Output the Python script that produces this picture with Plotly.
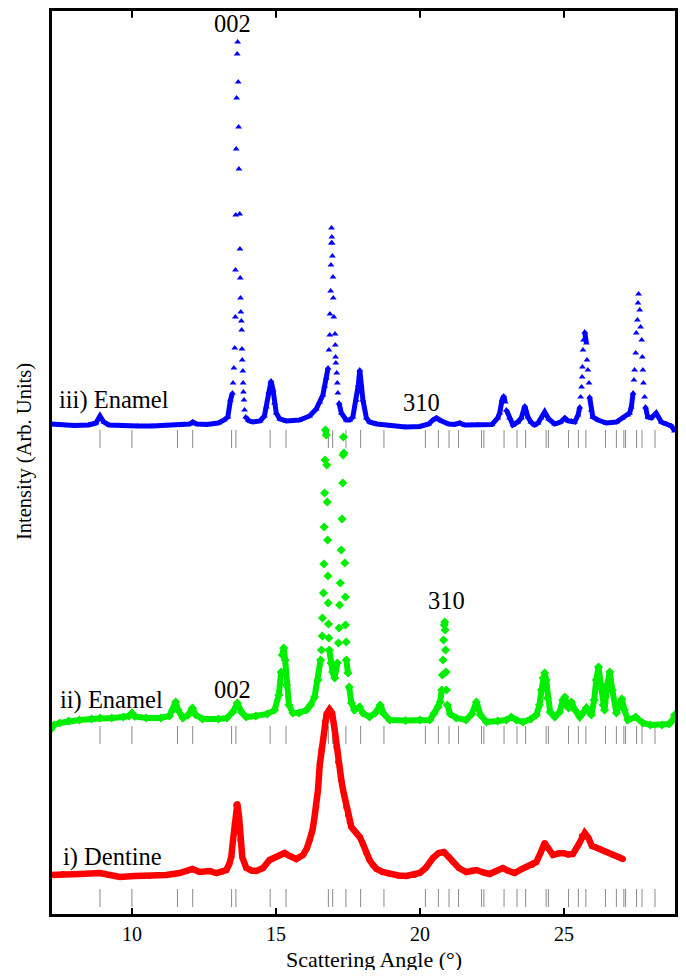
import plotly.graph_objects as go

# ---------------- data ----------------
# iii) Enamel (blue triangles)
blue_x = [7.19, 7.5, 8.0, 8.5, 8.75, 8.89, 9.02, 9.2, 9.7, 10.2, 10.7, 11.2, 11.7, 12.0, 12.11, 12.25,
          12.6, 13.0, 13.2, 13.33, 13.42, 13.49, 13.51, 13.54, 13.57, 13.59, 13.595, 13.605, 13.62,
          13.635, 13.655, 13.67, 13.69, 13.705, 13.715, 13.74, 13.75, 13.76, 13.77, 13.78, 13.80,
          13.81, 13.82, 13.83, 13.85, 13.86, 13.87, 13.89, 13.91, 13.95, 14.05, 14.2, 14.45, 14.6,
          14.67, 14.75, 14.83, 14.9, 14.95, 15.01, 15.13, 15.36, 15.82, 16.17, 16.4, 16.52, 16.63,
          16.69, 16.75, 16.81, 16.84, 16.87, 16.875, 16.90, 16.91, 16.925, 16.93, 16.94, 16.95,
          16.96, 16.98, 16.99, 17.01, 17.05, 17.06, 17.07, 17.08, 17.11, 17.13, 17.15, 17.19, 17.27,
          17.44, 17.56, 17.67, 17.79, 17.86, 17.91, 17.96, 18.02, 18.14, 18.25, 18.5, 19.0, 19.5,
          20.0, 20.3, 20.45, 20.57, 20.75, 21.0, 21.2, 21.38, 21.55, 22.0, 22.5, 22.7, 22.77, 22.85,
          22.91, 22.96, 23.0, 23.11, 23.23, 23.4, 23.52, 23.64, 23.75, 23.85, 23.98, 24.1, 24.21,
          24.33, 24.47, 24.68, 24.88, 25.03, 25.15, 25.26, 25.37, 25.49, 25.55, 25.58, 25.61, 25.63,
          25.64, 25.66, 25.68, 25.72, 25.78, 25.80, 25.83, 25.87, 25.89, 25.95, 26.0, 26.18, 26.47,
          26.82, 27.03, 27.22, 27.28, 27.34, 27.40, 27.43, 27.45, 27.49, 27.51, 27.55, 27.57, 27.59,
          27.63, 27.66, 27.70, 27.72, 27.74, 27.76, 27.80, 27.83, 27.91, 28.03, 28.20, 28.38, 28.55,
          28.73, 28.84]
blue_y = [6, 5, 4.5, 5, 7, 14, 8, 5, 4, 4, 4, 4.5, 5, 6, 8, 6,
          5.5, 7, 10, 13, 30, 37, 47, 62, 82, 113, 160, 215, 281,
          332, 376, 388, 348, 303, 261, 216, 181, 152, 132, 118, 109,
          100, 81, 70, 59, 47, 38, 30, 20, 13, 9.5, 8, 9, 14,
          23, 38, 49, 40, 27, 17, 11, 9, 10, 14, 21, 28, 35,
          44, 52, 62, 80, 95, 116, 139, 165, 187, 202, 193, 187,
          174, 153, 132, 113, 96, 85, 73, 67, 57, 47, 37, 27, 17,
          10, 10, 13, 30, 45, 60, 45, 30, 12, 8, 6, 4, 3,
          3.5, 6, 10, 12, 9, 6, 5.5, 7, 5, 5, 5.5, 12, 17, 30,
          34, 28, 20, 12, 5, 8, 12, 24, 13, 8, 5, 7, 12,
          18, 11, 6, 8, 12, 9, 9, 8, 15, 23, 33, 43, 53,
          63, 80, 90, 98, 87, 70, 60, 47, 33, 20, 13, 10, 7,
          8, 12, 15, 17, 23, 37, 50, 60, 77, 97, 110, 127, 136,
          120, 103, 90, 73, 60, 47, 33, 23, 13, 12, 17, 8, 6,
          4, -1]

# ii) Enamel (green diamonds)
green_x = [7.19, 7.3, 7.49, 7.8, 8.18, 8.6, 8.89, 9.3, 9.7, 9.9, 10.0, 10.1, 10.5, 11.0, 11.3, 11.42,
           11.52, 11.6, 11.77, 11.95, 12.1, 12.22, 12.45, 13.0, 13.3, 13.5, 13.66, 13.8, 13.97, 14.3,
           14.7, 14.95, 15.1, 15.18, 15.22, 15.27, 15.32, 15.37, 15.45, 15.59, 15.8, 16.06, 16.2,
           16.34, 16.46, 16.55, 16.58, 16.61, 16.615, 16.65, 16.665, 16.675, 16.69, 16.705, 16.72,
           16.745, 16.765, 16.78, 16.795, 16.805, 16.815, 16.825, 16.835, 16.85, 16.91, 16.97, 17.04,
           17.13, 17.17, 17.19, 17.21, 17.235, 17.265, 17.295, 17.32, 17.33, 17.34, 17.36, 17.39,
           17.41, 17.415, 17.44, 17.445, 17.50, 17.54, 17.62, 17.73, 17.9, 18.02, 18.25, 18.45,
           18.62, 18.75, 18.95, 19.5, 20.0, 20.34, 20.5, 20.63, 20.70, 20.76, 20.78, 20.80, 20.82,
           20.845, 20.86, 20.875, 20.89, 20.905, 20.92, 20.95, 21.05, 21.26, 21.6, 21.8, 21.96, 22.1,
           22.31, 22.7, 23.0, 23.17, 23.35, 23.58, 23.85, 24.04, 24.15, 24.22, 24.28, 24.33, 24.38,
           24.43, 24.52, 24.68, 24.85, 24.96, 25.03, 25.12, 25.16, 25.26, 25.38, 25.55, 25.7, 25.78,
           25.95, 26.05, 26.12, 26.2, 26.28, 26.36, 26.41, 26.5, 26.59, 26.68, 26.82, 26.92, 27.01,
           27.1, 27.22, 27.49, 27.74, 28.0, 28.4, 28.65, 28.78, 28.84]
green_y = [-3, 1, 3, 5, 6, 7, 8, 8, 9, 10, 13, 9.5, 8, 8, 10, 16,
           24, 16, 8, 11, 18, 11, 7, 7, 8, 14, 23, 14, 9, 10,
           12, 16, 31, 54, 71, 78, 66, 41, 21, 13, 13, 16, 21,
           29, 46, 66, 76, 90, 108, 133, 162, 199, 233, 266, 296,
           291, 261, 224, 186, 150, 123, 102, 88, 76, 63, 54, 48,
           63, 83, 98, 121, 143, 176, 207, 243, 271, 289, 273, 163,
           129, 101, 84, 66, 53, 39, 23, 16, 19, 13, 9, 13,
           21, 12, 6, 5.5, 6, 6, 13, 19, 24, 36, 51, 66, 86,
           101, 104, 96, 76, 54, 36, 21, 12, 8, 6, 12, 24, 11,
           4, 5, 6, 9, 6, 4, 7, 11, 21, 36, 48, 53, 46,
           28, 14, 9, 14, 26, 29, 20, 18, 24, 16, 9, 14, 18,
           11, 26, 46, 59, 41, 21, 16, 41, 54, 36, 13, 21, 27,
           16, 6, 9, 3, 1, 1, 2, 6, 11]

# i) Dentine (red circles)
red_x = [7.19, 7.6, 8.2, 8.89, 9.2, 9.58, 10.1, 10.61, 11.19, 11.66, 11.9, 12.1, 12.35, 12.7, 12.93,
         13.15, 13.28, 13.38, 13.45, 13.51, 13.57, 13.62, 13.66, 13.72, 13.76, 13.83, 13.97, 14.15,
         14.32, 14.55, 14.78, 15.01, 15.15, 15.30, 15.48, 15.71, 15.94, 16.08, 16.17, 16.27, 16.34,
         16.40, 16.46, 16.52, 16.58, 16.63, 16.70, 16.76, 16.86, 16.95, 17.04, 17.10, 17.16, 17.27,
         17.33, 17.39, 17.44, 17.50, 17.56, 17.62, 17.70, 17.79, 17.91, 18.02, 18.14, 18.25, 18.37,
         18.49, 18.7, 18.95, 19.25, 19.53, 19.8, 19.99, 20.2, 20.45, 20.65, 20.83, 21.0, 21.15,
         21.35, 21.61, 21.8, 21.96, 22.2, 22.42, 22.65, 22.88, 23.08, 23.29, 23.5, 23.69, 23.9,
         24.04, 24.2, 24.33, 24.45, 24.62, 24.8, 24.97, 25.15, 25.31, 25.5, 25.62, 25.72, 25.85,
         25.97, 26.07, 26.25, 26.47, 26.7, 26.9, 27.05]
red_y = [14, 15, 15, 16, 14, 12, 13, 13, 14, 16, 18, 20, 17, 18, 16,
         17.5, 19, 25, 32, 49, 66, 84, 85, 72, 49, 32, 21, 18.5,
         18, 21, 29, 32, 34, 36, 33, 30, 34, 41, 49, 59, 72,
         82, 99, 124, 139, 149, 167, 175, 179.5, 176, 159, 142, 127, 109,
         99, 91, 82, 74, 67, 62, 59, 56, 52, 45, 36, 29, 24,
         20, 17, 15, 13.5, 13, 14, 16, 21, 31, 36, 37, 32, 27,
         21, 17, 18.5, 19, 16.5, 15, 18, 21, 18, 16, 19.5, 22, 24,
         27, 37, 46, 41, 34, 35.5, 36, 34.5, 35, 44, 53, 56, 51,
         43, 42, 40, 37, 34, 32, 30]

# reflection positions (tick rows)
refl_x = [8.89, 10.0, 11.58, 12.11, 13.46, 13.61, 14.80, 15.35, 16.82, 16.97, 17.43, 17.94, 18.75,
          20.19, 20.64, 21.01, 21.34, 22.14, 22.22, 22.92, 23.37, 23.67, 24.38, 24.46, 25.16, 25.50,
          25.76, 26.44, 26.82, 27.08, 27.14, 27.52, 27.71, 28.16]

x_ticks = [10, 15, 20, 25]

# ---------------- styling / positions ----------------
FONT = "Liberation Serif, Times New Roman, serif"
series = [
    # (x, y, offset, colour, symbol, marker size, band width, sparse steep flanks)
    (blue_x, blue_y, 485, "#0000ff", "triangle-up", 6, 5, True),
    (green_x, green_y, 189, "#00ee00", "diamond", 7, 6, True),
    (red_x, red_y, 26, "#ff0000", "circle", 6, 6.5, False),
]
TICK_LEN = 18
PLOT_H = 905  # plot-area height in px
PLOT_W = 625  # plot-area width in px

fig = go.Figure()

for xs, ys, off, col, sym, ms, lw, sparse in series:
    # reflection tick row
    tx, ty = [], []
    for r in refl_x:
        tx += [r, r, None]
        ty += [off - TICK_LEN, off, None]
    fig.add_trace(go.Scatter(x=tx, y=ty, mode="lines", line=dict(color="#8a8a8a", width=1),
                             hoverinfo="skip", showlegend=False))
    # continuous band (broken where individual sparse data points sit on steep peak flanks)
    lx, ly = [], []
    for i, (xv, yv) in enumerate(zip(xs, ys)):
        if sparse and i > 0 and (xv - xs[i - 1]) < 0.045 and abs(yv - ys[i - 1]) > 5:
            lx.append(None)
            ly.append(None)
        lx.append(xv)
        ly.append(yv + off)
    fig.add_trace(go.Scatter(x=lx, y=ly, mode="lines", line=dict(color=col, width=lw),
                             connectgaps=False, hoverinfo="skip", showlegend=False))
    fig.add_trace(go.Scatter(x=xs, y=[v + off for v in ys], mode="markers",
                             marker=dict(symbol=sym, size=ms, color=col, line=dict(width=0)),
                             showlegend=False))

labels = [
    ("002", 13.50, 892, "center"),
    ("310", 20.05, 513, "center"),
    ("002", 13.49, 226, "center"),
    ("310", 20.92, 315, "center"),
    ("iii) Enamel", 7.39, 515, "left"),
    ("ii) Enamel", 7.43, 215, "left"),
    ("i) Dentine", 7.55, 58, "left"),
]
for txt, ax, ay, anc in labels:
    fig.add_annotation(x=ax, y=ay, text=txt, showarrow=False, xanchor=anc, yanchor="middle",
                       font=dict(family=FONT, size=24.5, color="black"))

# axis titles as annotations (placed like the reference, kept inside the figure)
fig.add_annotation(xref="paper", yref="paper", x=(374 - 51) / PLOT_W, y=(915 - 959.5) / PLOT_H,
                   text="Scattering Angle (°)", showarrow=False, xanchor="center", yanchor="middle",
                   font=dict(family=FONT, size=22, color="black"))
fig.add_annotation(xref="paper", yref="paper", x=(24 - 51) / PLOT_W, y=(915 - 452) / PLOT_H,
                   text="Intensity (Arb. Units)", showarrow=False, textangle=-90,
                   xanchor="center", yanchor="middle",
                   font=dict(family=FONT, size=20.5, color="black"))

# frame and top ticks
shapes = [dict(type="rect", xref="paper", yref="paper", x0=0, x1=1, y0=0, y1=1,
               line=dict(color="black", width=2), fillcolor="rgba(0,0,0,0)", layer="above")]
for t in x_ticks:
    shapes.append(dict(type="line", xref="x", yref="paper", x0=t, x1=t, y0=1, y1=1 - 8 / PLOT_H,
                       line=dict(color="black", width=1.5), layer="above"))

# the page body adds an 8px offset; keep the figure inside the window so no scrollbars appear
fig.update_layout(
    width=670, height=962,
    margin=dict(l=43, r=2, t=2, b=55),
    paper_bgcolor="white", plot_bgcolor="white",
    font=dict(family=FONT, color="black"),
    showlegend=False,
    shapes=shapes,
)
fig.update_xaxes(
    range=[7.19, 28.89], tickvals=x_ticks, ticktext=[str(t) for t in x_ticks],
    ticks="inside", ticklen=7, tickwidth=1.5, tickcolor="black",
    showline=True, linecolor="black", linewidth=1.5, mirror="ticks",
    showgrid=False, zeroline=False, automargin=False,
    tickfont=dict(family=FONT, size=20),
)
fig.update_yaxes(
    range=[0, PLOT_H], showticklabels=False, ticks="",
    showline=True, linecolor="black", linewidth=1.5, mirror=True,
    showgrid=False, zeroline=False, automargin=False,
)

fig.write_html("out.html")
